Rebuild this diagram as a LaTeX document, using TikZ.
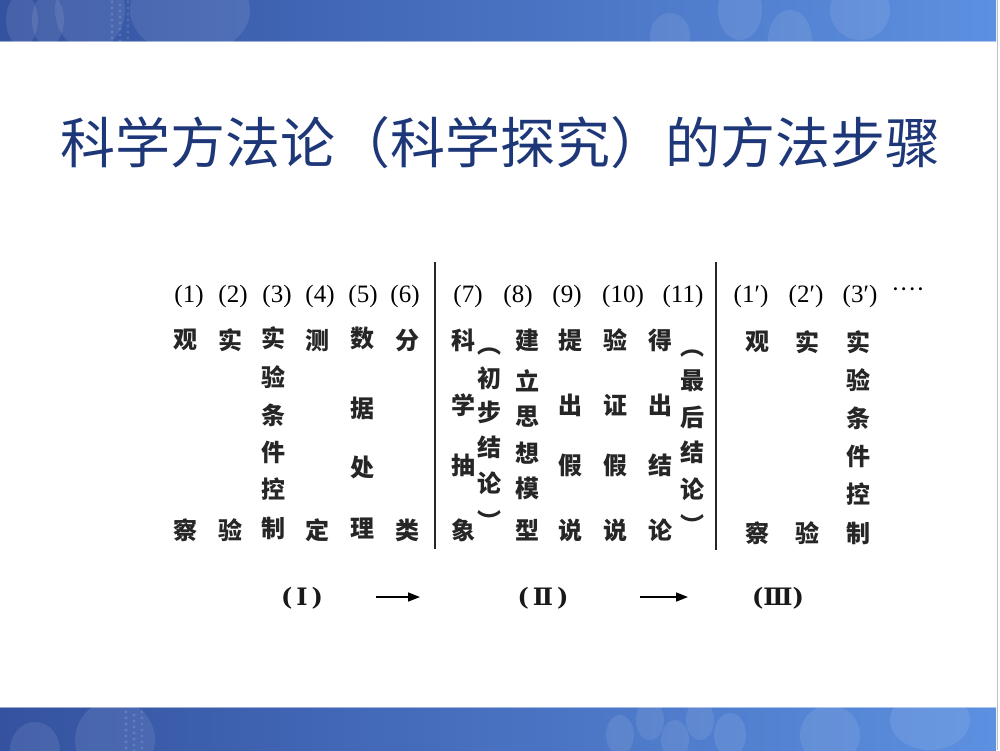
\documentclass[tikz,border=0pt]{standalone}
\usepackage{fontspec}
\setmainfont{Liberation Serif}
\newfontfamily\cjk{Noto Sans CJK SC}
\newfontfamily\dvs{DejaVu Serif}
\usetikzlibrary{arrows.meta}
\definecolor{titleblue}{RGB}{30,55,120}
\definecolor{bandL}{RGB}{52,82,160}
\definecolor{bandR}{RGB}{92,144,224}
\begin{document}
\begin{tikzpicture}[x=1pt,y=-1pt,
  ch/.style={font=\cjk\bfseries\fontsize{24}{24}\selectfont, inner sep=0pt, text=black!85},
  lab/.style={font=\fontsize{25}{25}\selectfont, inner sep=0pt, text=black},
  roman/.style={font=\dvs\bfseries\fontsize{24}{24}\selectfont, inner sep=0pt, text=black!90},
  divider/.style={line width=1.4pt, black!85},
  flow/.style={line width=1.6pt, black, -{Triangle[length=12pt,width=9pt]}},
  bokeh/.style={fill=white, opacity=0.09}]
% page
\useasboundingbox (0,0) rectangle (1000,750);
\fill[white] (0,0) rectangle (1000,750);
% top band
\shade[left color=bandL, right color=bandR] (0,0) rectangle (996,41);
\begin{scope}
\clip (0,0) rectangle (996,41);
\fill[bokeh] (22,20) ellipse (16 and 26);
\fill[bokeh] (48,20) ellipse (16 and 26);
\fill[bokeh] (90,10) ellipse (35 and 40);
\foreach \yy in {2,8,...,40} {\fill[white,opacity=0.15] (112,\yy) circle (1.6); \fill[white,opacity=0.15] (120,\yy+3) circle (1.6); \fill[white,opacity=0.12] (128,\yy) circle (1.6);}
\fill[bokeh] (190,10) ellipse (60 and 45);
\fill[bokeh] (670,35) ellipse (20 and 22);
\fill[bokeh] (740,10) ellipse (22 and 30);
\fill[bokeh] (790,40) ellipse (22 and 30);
\fill[bokeh] (860,10) ellipse (30 and 30);
\end{scope}
\draw[white,opacity=0.5,line width=0.8pt] (0,41) -- (996,41);
% bottom band
\shade[left color=bandL, right color=bandR] (0,707) rectangle (996,750);
\begin{scope}
\clip (0,707) rectangle (996,750);
\fill[bokeh] (35,750) ellipse (25 and 28);
\fill[bokeh] (115,740) ellipse (40 and 40);
\foreach \yy in {712,718,...,750} {\fill[white,opacity=0.15] (126,\yy) circle (1.6); \fill[white,opacity=0.15] (134,\yy+3) circle (1.6); \fill[white,opacity=0.12] (142,\yy) circle (1.6);}
\fill[bokeh] (620,735) ellipse (14 and 20);
\fill[bokeh] (650,720) ellipse (14 and 20);
\fill[bokeh] (675,740) ellipse (14 and 20);
\fill[bokeh] (700,720) ellipse (14 and 20);
\fill[bokeh] (730,735) ellipse (16 and 22);
\fill[bokeh] (830,735) ellipse (30 and 30);
\fill[bokeh] (930,720) ellipse (40 and 30);
\end{scope}
\draw[white,opacity=0.5,line width=0.8pt] (0,707) -- (996,707);
\draw[black!25,line width=0.8pt] (997.5,0) -- (997.5,750);
% title
\node[font=\cjk\fontsize{55}{55}\selectfont, text=titleblue, inner sep=0pt] (title) at (500,143) {科学方法论（科学探究）的方法步骤};
% header labels
\node[lab] (l1) at (189,296) {(1)};
\node[lab] (l2) at (233,296) {(2)};
\node[lab] (l3) at (277,296) {(3)};
\node[lab] (l4) at (320,296) {(4)};
\node[lab] (l5) at (363,296) {(5)};
\node[lab] (l6) at (405,296) {(6)};
\node[lab] (l7) at (468,296) {(7)};
\node[lab] (l8) at (518,296) {(8)};
\node[lab] (l9) at (567,296) {(9)};
\node[lab] (l10) at (623,296) {(10)};
\node[lab] (l11) at (683,296) {(11)};
\node[lab] (l1p) at (751,296) {(1′)};
\node[lab] (l2p) at (806,296) {(2′)};
\node[lab] (l3p) at (860,296) {(3′)};
\node[lab] (dots) at (908,293) {····};
% section I
\foreach \c/\yy [count=\i] in {观/340,察/530} \node[ch] (a1-\i) at (185,\yy) {\c};
\foreach \c/\yy [count=\i] in {实/340,验/530} \node[ch] (a2-\i) at (230,\yy) {\c};
\foreach \c/\yy [count=\i] in {实/338,验/377,条/415,件/452,控/489,制/528} \node[ch] (a3-\i) at (273,\yy) {\c};
\foreach \c/\yy [count=\i] in {测/340,定/530} \node[ch] (a4-\i) at (317,\yy) {\c};
\foreach \c/\yy [count=\i] in {数/338,据/408,处/467,理/528} \node[ch] (a5-\i) at (362,\yy) {\c};
\foreach \c/\yy [count=\i] in {分/340,类/530} \node[ch] (a6-\i) at (407,\yy) {\c};
% section II
\foreach \c/\yy [count=\i] in {科/340,学/405,抽/465,象/530} \node[ch] (b7-\i) at (463,\yy) {\c};
\foreach \c/\yy [count=\i] in {︵/352,初/378,步/412,结/447,论/483,︶/520} \node[ch] (p7-\i) at (489,\yy) {\c};
\foreach \c/\yy [count=\i] in {建/340,立/381,思/417,想/453,模/488,型/530} \node[ch] (b8-\i) at (527,\yy) {\c};
\foreach \c/\yy [count=\i] in {提/340,出/405,假/465,说/530} \node[ch] (b9-\i) at (570,\yy) {\c};
\foreach \c/\yy [count=\i] in {验/340,证/405,假/465,说/530} \node[ch] (b10-\i) at (615,\yy) {\c};
\foreach \c/\yy [count=\i] in {得/340,出/405,结/465,论/530} \node[ch] (b11-\i) at (660,\yy) {\c};
\foreach \c/\yy [count=\i] in {︵/354,最/381,后/417,结/452,论/489,︶/524} \node[ch] (p11-\i) at (692,\yy) {\c};
% section III
\foreach \c/\yy [count=\i] in {观/342,察/533} \node[ch] (c1-\i) at (757,\yy) {\c};
\foreach \c/\yy [count=\i] in {实/342,验/533} \node[ch] (c2-\i) at (807,\yy) {\c};
\foreach \c/\yy [count=\i] in {实/342,验/380,条/418,件/456,控/494,制/533} \node[ch] (c3-\i) at (858,\yy) {\c};
% dividers
\coordinate (d1t) at (435,262); \coordinate (d1b) at (435,549);
\coordinate (d2t) at (716,262); \coordinate (d2b) at (716,550);
\draw[divider] (d1t) -- (d1b);
\draw[divider] (d2t) -- (d2b);
% stages
\node[roman] (s1) at (302,598) {(\,Ⅰ\,)};
\node[roman] (s2) at (543,598) {(\,Ⅱ\,)};
\node[roman] (s3) at (778,598) {(Ⅲ)};
\coordinate (f1s) at (376,597); \coordinate (f1e) at (420,597);
\coordinate (f2s) at (640,597); \coordinate (f2e) at (688,597);
\draw[flow] (f1s) -- (f1e);
\draw[flow] (f2s) -- (f2e);
\end{tikzpicture}
\end{document}
